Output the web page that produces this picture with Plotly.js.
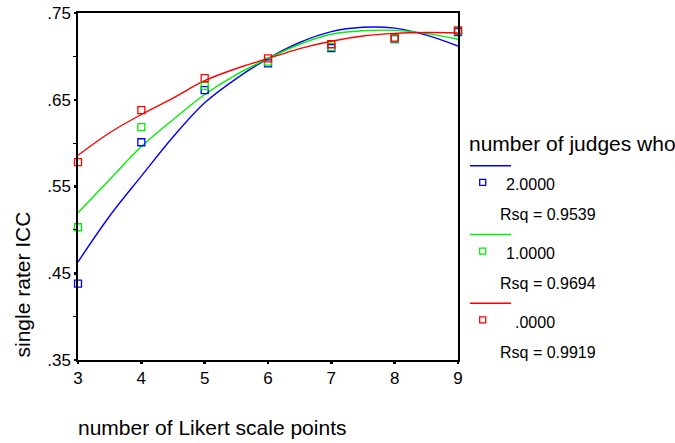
<!DOCTYPE html>
<html>
<head>
<meta charset="utf-8">
<script src="https://cdn.plot.ly/plotly-3.0.1.min.js"></script>
<style>html,body{margin:0;padding:0;background:#fff;}#chart{width:675px;height:443px;}</style>
</head>
<body>
<div id="chart"></div>
<script>
// Observed values
var likertPoints = [3, 4, 5, 6, 7, 8, 9];
var judges2 = [0.438, 0.601, 0.661, 0.692, 0.7095, 0.720, 0.728];
var judges1 = [0.503, 0.6185, 0.666, 0.694, 0.711, 0.7206, 0.729];
var judges0 = [0.578, 0.638, 0.675, 0.6976, 0.714, 0.7217, 0.730];

// Fitted curves
var fitX = [3, 3.5, 4, 4.5, 5, 5.5, 6, 6.5, 7, 7.5, 8, 8.5, 9];
var fit2 = [0.463, 0.516, 0.562, 0.607, 0.6465, 0.6744, 0.6975, 0.716, 0.7285, 0.7335, 0.7325, 0.7245, 0.712];
var fit1 = [0.5196, 0.558, 0.596, 0.627, 0.656, 0.679, 0.6975, 0.714, 0.7255, 0.7295, 0.7300, 0.7265, 0.7197];
var fit0 = [0.586, 0.612, 0.633, 0.652, 0.672, 0.686, 0.6975, 0.709, 0.7175, 0.7235, 0.7265, 0.7275, 0.727];

var groupLabels = ['2.0000', '1.0000', '.0000'];
var rsqLabels = ['Rsq = 0.9539', 'Rsq = 0.9694', 'Rsq = 0.9919'];
var colors = ['#0000ff', '#00ee00', '#ff0000'];
var yTickVals = [0.35, 0.45, 0.55, 0.65, 0.75];
var yTickText = ['.35', '.45', '.55', '.65', '.75'];
var xTickVals = [3, 4, 5, 6, 7, 8, 9];

var FONT = 'Arial, "Liberation Sans", sans-serif';
var fits = [fit2, fit1, fit0];
var obs = [judges2, judges1, judges0];

var traces = [];
for (var i = 0; i < 3; i++) {
  traces.push({
    x: fitX, y: fits[i], type: 'scatter', mode: 'lines',
    line: {color: colors[i], width: 1.4, shape: 'spline'},
    showlegend: false, hoverinfo: 'skip', cliponaxis: false
  });
}
for (var i = 0; i < 3; i++) {
  traces.push({
    x: likertPoints, y: obs[i], type: 'scatter', mode: 'markers',
    marker: {symbol: 'square-open', size: 7, color: colors[i], line: {width: 1.3, color: colors[i]}},
    showlegend: false, cliponaxis: false
  });
}

// pixel -> paper helpers for the hand-built legend
var L = 78, R = 458, T = 13, B = 360;
function px(x) { return (x - L) / (R - L); }
function py(y) { return (B - y) / (B - T); }

var shapes = [];
var annotations = [];
annotations.push({xref: 'paper', yref: 'paper', x: px(467), y: py(143), xanchor: 'left', yanchor: 'middle',
  text: 'number of judges who', showarrow: false, font: {family: FONT, size: 21, color: '#000'}});
for (var i = 0; i < 3; i++) {
  var off = i * 68.8;
  shapes.push({type: 'line', xref: 'paper', yref: 'paper', x0: px(470), x1: px(511),
    y0: py(165.7 + off), y1: py(165.7 + off), line: {color: colors[i], width: 1.4}});
  shapes.push({type: 'rect', xref: 'paper', yref: 'paper', x0: px(479.7), x1: px(485.7),
    y0: py(179.3 + off), y1: py(185.3 + off), line: {color: colors[i], width: 1.3}});
  annotations.push({xref: 'paper', yref: 'paper', x: px(557), y: py(184.5 + off), xanchor: 'right', yanchor: 'middle',
    text: groupLabels[i], showarrow: false, font: {family: FONT, size: 16, color: '#000'}});
  annotations.push({xref: 'paper', yref: 'paper', x: px(497.5), y: py(214.5 + off), xanchor: 'left', yanchor: 'middle',
    text: rsqLabels[i], showarrow: false, font: {family: FONT, size: 16, color: '#000'}});
}
// axis titles
annotations.push({xref: 'paper', yref: 'paper', x: px(211.5), y: py(428), xanchor: 'center', yanchor: 'middle',
  text: 'number of Likert scale points', showarrow: false, font: {family: FONT, size: 21, color: '#000'}});
annotations.push({xref: 'paper', yref: 'paper', x: px(22), y: py(284.5), xanchor: 'center', yanchor: 'middle',
  text: 'single rater ICC', textangle: -90, showarrow: false, font: {family: FONT, size: 21, color: '#000'}});

var layout = {
  width: 675, height: 443,
  margin: {l: L, r: 675 - R, t: T, b: 443 - B, pad: 0},
  paper_bgcolor: '#fff', plot_bgcolor: '#fff',
  font: {family: FONT, size: 17, color: '#000'},
  showlegend: false,
  xaxis: {range: [3, 9], tickvals: xTickVals, ticktext: xTickVals.map(String),
    showgrid: false, zeroline: false, showline: true, mirror: true, linecolor: '#000', linewidth: 1.6,
    ticks: 'outside', ticklen: 2, tickwidth: 2.5, tickcolor: '#000',
    tickfont: {family: FONT, size: 17, color: '#000'}},
  yaxis: {range: [0.35, 0.75], tickvals: yTickVals, ticktext: yTickText,
    showgrid: false, zeroline: false, showline: true, mirror: true, linecolor: '#000', linewidth: 1.6,
    ticks: 'outside', ticklen: 2, tickwidth: 2.5, tickcolor: '#000',
    minor: {dtick: 0.1, tick0: 0.4, ticks: 'outside', ticklen: 3, tickwidth: 1, tickcolor: '#000'},
    tickfont: {family: FONT, size: 17, color: '#000'}},
  shapes: shapes,
  annotations: annotations
};

Plotly.newPlot('chart', traces, layout, {displayModeBar: false, staticPlot: true});
</script>
</body>
</html>
